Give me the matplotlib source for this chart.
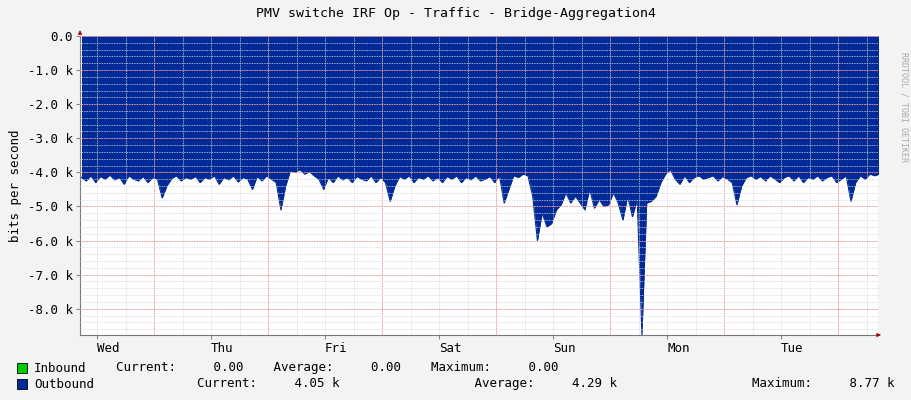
import numpy as np
import matplotlib
matplotlib.use("Agg")
import matplotlib.pyplot as plt

# Outbound traffic (k bits/s), hourly, Wed 00h .. Tue 24h, drawn negative
out_k = [
    -4.15, -4.25, -4.1, -4.3, -4.12, -4.2, -4.08, -4.22, -4.15, -4.35, -4.1, -4.2,
    -4.25, -4.12, -4.3, -4.15, -4.2, -4.75, -4.4, -4.18, -4.1, -4.25, -4.15, -4.2,
    -4.12, -4.3, -4.15, -4.2, -4.1, -4.35, -4.15, -4.22, -4.1, -4.28, -4.15, -4.2,
    -4.5, -4.12, -4.25, -4.1, -4.2, -4.3, -5.1, -4.4, -3.95, -4.0, -3.92, -4.05,
    -3.98, -4.1, -4.2, -4.5, -4.15, -4.3, -4.1, -4.22, -4.15, -4.3, -4.12, -4.2,
    -4.25, -4.1, -4.3, -4.15, -4.3, -4.85, -4.4, -4.12, -4.2, -4.1, -4.3, -4.15,
    -4.2, -4.1, -4.25, -4.15, -4.3, -4.12, -4.2, -4.1, -4.3, -4.15, -4.22, -4.1,
    -4.25, -4.2, -4.12, -4.3, -4.1, -4.9, -4.5, -4.1, -4.15, -4.05, -4.1, -4.7,
    -6.0, -5.2, -5.6, -5.5, -5.1, -4.95, -4.6, -4.9, -4.7, -4.9, -5.1, -4.5,
    -5.05, -4.8, -5.0, -4.95, -4.6, -4.9, -5.4, -4.7, -5.3, -4.8, -8.77, -4.9,
    -4.85, -4.7, -4.3, -4.05, -3.92, -4.2, -4.35, -4.1, -4.3, -4.15, -4.1, -4.2,
    -4.15, -4.1, -4.25, -4.12, -4.2, -4.3, -4.95, -4.4, -4.15, -4.1, -4.2, -4.12,
    -4.25, -4.1, -4.2, -4.3, -4.15, -4.1, -4.25, -4.1, -4.3, -4.15, -4.2, -4.1,
    -4.25, -4.15, -4.1, -4.3, -4.2, -4.1, -4.85, -4.3, -4.1, -4.2, -4.05, -4.1, -4.05,
]
days = ["Wed", "Thu", "Fri", "Sat", "Sun", "Mon", "Tue"]
legend_rows = [
    ("Inbound", "#00cc00", "Current:     0.00    Average:     0.00    Maximum:     0.00"),
    ("Outbound", "#002a97", "              Current:     4.05 k                  Average:     4.29 k                  Maximum:     8.77 k"),
]

MONO = "DejaVu Sans Mono"
BG = "#f3f3f3"
C_OUT = "#002a97"
START = -3.6  # plot starts 3.6 h before Wed 00:00

hours = START + 0.3 + np.arange(len(out_k))
vals = np.array(out_k) * 1000

fig = plt.figure(figsize=(9.11, 4.0), dpi=100, facecolor=BG)
ax = fig.add_axes([80 / 911, 65 / 400, 798 / 911, 299 / 400])
ax.set_facecolor("white")

ax.fill_between(hours, 0, vals, color=C_OUT, lw=0, zorder=2)
ax.plot(hours, vals, color=C_OUT, lw=0.8, zorder=2)

x0, x1 = START, START + 168.0
ax.set_xlim(x0, x1)
ax.set_ylim(-8770, 0)

# grid: minor grey every 6 h / 200, major red at noon / every 1k
for h in np.arange(-0.0, 168, 6):
    ax.axvline(h, color="#d8d8d8", lw=0.6, ls=(0, (1, 1)), zorder=3)
for h in np.arange(12, 168, 24):
    ax.axvline(h, color="#f08080", lw=0.6, ls=(0, (1, 1)), zorder=3)
for v in np.arange(-8600, 0, 200):
    ax.axhline(v, color="#d8d8d8", lw=0.6, ls=(0, (1, 1)), zorder=3)
for v in np.arange(-8000, 1, 1000):
    ax.axhline(v, color="#f08080", lw=0.6, ls=(0, (1, 1)), zorder=3)

ax.set_yticks(np.arange(-8000, 1, 1000))
ax.set_yticklabels(["0.0" if v == 0 else f"{v/1000:.1f} k" for v in np.arange(-8000, 1, 1000)],
                   fontfamily=MONO, fontsize=9)
ax.set_xticks(np.arange(0, 168, 24))
ax.set_xticklabels(days, fontfamily=MONO, fontsize=9, ha="left")
ax.tick_params(length=3, color="#888888", pad=2)
for s in ["top", "right"]:
    ax.spines[s].set_visible(False)
for s in ["left", "bottom"]:
    ax.spines[s].set_color("#777777")
ax.set_ylabel("bits per second", fontfamily=MONO, fontsize=9)

# axis arrows
ax.annotate("", xy=(x1 + 1.2, -8770), xytext=(x1 - 0.5, -8770), annotation_clip=False,
            arrowprops=dict(arrowstyle="-|>", color="#a00000", lw=0.5, mutation_scale=6))
ax.annotate("", xy=(x0, 250), xytext=(x0, 0), annotation_clip=False,
            arrowprops=dict(arrowstyle="-|>", color="#a00000", lw=0.5, mutation_scale=6))

fig.text(0.5, 1 - 14 / 400, "PMV switche IRF Op - Traffic - Bridge-Aggregation4",
         ha="center", va="center", fontfamily=MONO, fontsize=9.5)
fig.text(904 / 911, 0.87, "RRDTOOL / TOBI OETIKER", rotation=270, ha="center", va="top",
         fontfamily=MONO, fontsize=6, color="#aaaaaa")

for i, (name, col, txt) in enumerate(legend_rows):
    y = 1 - (368 + 16 * i) / 400
    fig.patches.append(plt.Rectangle((17 / 911, y - 0.013), 10 / 911, 0.026, transform=fig.transFigure,
                                     facecolor=col, edgecolor="black", lw=0.6))
    fig.text(34 / 911, y, f"{name:<9}" + txt[:0] if False else name, va="center",
             fontfamily=MONO, fontsize=9)
    fig.text((116 if i == 0 else 34 + 9 * 6.4) / 911, y, txt, va="center",
             fontfamily=MONO, fontsize=9)

fig.savefig("out.png", dpi=100, facecolor=BG)
